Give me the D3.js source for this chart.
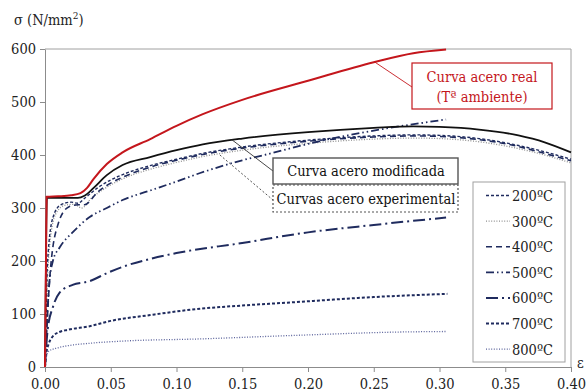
<!DOCTYPE html>
<html>
<head>
<meta charset="utf-8">
<script src="https://cdn.jsdelivr.net/npm/d3@7/dist/d3.min.js"></script>
<style>
html,body{margin:0;padding:0;background:#fff;}
svg{display:block;}
</style>
</head>
<body>
<svg id="chart" width="587" height="391"></svg>
<script>
// ---- data ----
const xTicks = [0, 0.05, 0.10, 0.15, 0.20, 0.25, 0.30, 0.35, 0.40];
const yTicks = [0, 100, 200, 300, 400, 500, 600];
const legendLabels = ["200ºC", "300ºC", "400ºC", "500ºC", "600ºC", "700ºC", "800ºC"];

const realCurve = [[0,0],[0.0012,321],[0.01,322],[0.02,324],[0.027,328],[0.032,338],[0.037,355],[0.047,383],[0.059,405],[0.08,430],[0.10,455],[0.12,477],[0.15,504],[0.20,540],[0.25,575],[0.28,592],[0.305,599]];
const modCurve = [[0,0],[0.0015,319],[0.01,319],[0.025,319],[0.03,323],[0.037,338],[0.047,362],[0.059,381],[0.08,396],[0.10,409],[0.12,420],[0.15,431],[0.20,443],[0.25,451],[0.28,454],[0.30,453],[0.33,448],[0.36,437],[0.38,424],[0.40,405]];
const c200 = [[0,0],[0.002,200],[0.006,282],[0.012,306],[0.02,311],[0.025,309],[0.03,318],[0.04,338],[0.05,353],[0.06,364],[0.08,380],[0.10,392],[0.12,403],[0.15,415],[0.20,428],[0.25,436],[0.28,438],[0.30,437],[0.33,431],[0.36,418],[0.38,406],[0.40,392]];
const c300 = [[0,0],[0.003,215],[0.008,288],[0.015,305],[0.022,307],[0.028,300],[0.035,318],[0.045,336],[0.06,356],[0.08,373],[0.10,386],[0.12,397],[0.15,409],[0.20,422],[0.25,430],[0.28,432],[0.30,431],[0.33,425],[0.36,412],[0.38,400],[0.40,385]];
const c400 = [[0,0],[0.004,180],[0.01,270],[0.018,302],[0.025,306],[0.03,306],[0.04,330],[0.05,347],[0.06,359],[0.08,377],[0.10,390],[0.12,401],[0.15,413],[0.20,426],[0.25,434],[0.28,436],[0.30,435],[0.33,429],[0.36,416],[0.38,403],[0.40,389]];
const c500 = [[0,0],[0.003,150],[0.006,200],[0.011,225],[0.021,254],[0.034,283],[0.047,300],[0.059,315],[0.08,333],[0.10,350],[0.118,366],[0.15,390],[0.17,402],[0.207,425],[0.257,449],[0.305,467]];
const c600 = [[0,0],[0.002,70],[0.006,113],[0.011,140],[0.021,155],[0.034,162],[0.047,177],[0.059,189],[0.08,204],[0.10,215],[0.15,234],[0.20,254],[0.25,268],[0.305,282]];
const c700 = [[0,0],[0.001,25],[0.003,45],[0.006,58],[0.011,66],[0.017,70],[0.034,77],[0.05,87],[0.08,98],[0.118,110],[0.15,116],[0.194,123],[0.25,132],[0.306,138]];
const c800 = [[0,0],[0.001,19],[0.003,30],[0.008,35],[0.017,40],[0.035,45],[0.06,49],[0.118,53],[0.194,60],[0.27,66],[0.305,67]];

// ---- layout ----
const svg = d3.select("#chart");
const x = d3.scaleLinear().domain([0, 0.40]).range([45, 571]);
const y = d3.scaleLinear().domain([0, 600]).range([367, 49]);
const navy = "#1f2b5e";
const FONT = "'DejaVu Serif Condensed','DejaVu Serif',serif";
const FS = "14.5px";

// frame
svg.append("line").attr("x1", x(0)).attr("x2", x(0.40)).attr("y1", y(600)).attr("y2", y(600)).attr("stroke", "#a0a0a0").attr("stroke-width", 1);
svg.append("line").attr("x1", x(0.40)).attr("x2", x(0.40)).attr("y1", y(600)).attr("y2", y(0)).attr("stroke", "#a0a0a0").attr("stroke-width", 1);

// axes
const xAxis = svg.append("g").attr("transform", `translate(0,${y(0)})`)
  .call(d3.axisBottom(x).tickValues(xTicks).tickFormat(d3.format(".2f")).tickSize(5).tickSizeOuter(0));
const yAxis = svg.append("g").attr("transform", `translate(${x(0)},0)`)
  .call(d3.axisLeft(y).tickValues(yTicks).tickFormat(d3.format("d")).tickSize(5).tickSizeOuter(0));
[xAxis, yAxis].forEach(a => {
  a.attr("font-family", null).attr("font-size", null);
  a.selectAll("path, line").attr("stroke", "#8c8c8c").attr("stroke-width", 1);
  a.selectAll("text").style("font-family", FONT).style("font-size", FS).attr("fill", "#222");
});
xAxis.selectAll("text").attr("dy", "0.95em").attr("y", 8);
yAxis.selectAll("text").attr("x", -9).attr("dy", "0.3em");

svg.append("text").attr("x", 14).attr("y", 25).style("font-family", FONT).style("font-size", FS).attr("fill", "#222")
  .html('σ (N/mm<tspan dy="-6" font-size="10">2</tspan><tspan dy="6">)</tspan>');
svg.append("text").attr("x", 577).attr("y", 368).style("font-family", FONT).style("font-size", FS).attr("fill", "#222").text("ε");

// curves
const line = d3.line().x(d => x(d[0])).y(d => y(d[1])).curve(d3.curveMonotoneX);
const series = [
  {data: c300, color: "#8f8f8f", w: 1.3, dash: "1,1.6"},
  {data: c400, color: navy, w: 1.6, dash: "6,4"},
  {data: c200, color: navy, w: 1.4, dash: "3,2"},
  {data: c500, color: navy, w: 1.8, dash: "8,3,1.5,3,1.5,3"},
  {data: c600, color: navy, w: 2, dash: "12,4,2,4"},
  {data: c700, color: navy, w: 2, dash: "3,2"},
  {data: c800, color: "#59619a", w: 1.3, dash: "1,1.6"}
];
series.forEach(s => {
  svg.append("path").attr("d", line(s.data)).attr("fill", "none")
    .attr("stroke", s.color).attr("stroke-width", s.w).attr("stroke-dasharray", s.dash);
});
svg.append("path").attr("d", line(modCurve)).attr("fill", "none").attr("stroke", "#111").attr("stroke-width", 1.8);
svg.append("path").attr("d", line(realCurve)).attr("fill", "none").attr("stroke", "#c4161c").attr("stroke-width", 2);

// annotations
const red = "#c4161c";
function label(xp, yp, txt, color) {
  svg.append("text").attr("x", xp).attr("y", yp).attr("text-anchor", "middle")
    .style("font-family", FONT).style("font-size", FS).attr("fill", color).text(txt);
}
svg.append("line").attr("x1", x(0.251)).attr("y1", y(575)).attr("x2", 412).attr("y2", 87).attr("stroke", red).attr("stroke-width", 0.9);
svg.append("rect").attr("x", 412).attr("y", 63).attr("width", 140).attr("height", 46).attr("fill", "#fff").attr("stroke", red).attr("stroke-width", 1.2);
label(482, 82, "Curva acero real", red);
label(482, 102, "(Tª ambiente)", red);

svg.append("line").attr("x1", x(0.142)).attr("y1", y(429)).attr("x2", 273).attr("y2", 171).attr("stroke", "#333").attr("stroke-width", 0.9);
svg.append("line").attr("x1", x(0.133)).attr("y1", y(400)).attr("x2", 273).attr("y2", 200).attr("stroke", "#555").attr("stroke-width", 1).attr("stroke-dasharray", "2,2");
svg.append("rect").attr("x", 273).attr("y", 158).attr("width", 185).attr("height", 26).attr("fill", "#fff").attr("stroke", "#555").attr("stroke-width", 1.4);
label(366, 176, "Curva acero modificada", "#111");
svg.append("rect").attr("x", 273).attr("y", 185).attr("width", 185).attr("height", 27).attr("fill", "#fff").attr("stroke", "#555").attr("stroke-width", 1.2).attr("stroke-dasharray", "2,2");
label(366, 204, "Curvas acero experimental", "#111");

// legend
const legendStyles = [series[2], series[0], series[1], series[3], series[4], series[5], series[6]];
svg.append("rect").attr("x", 473).attr("y", 182).attr("width", 92).attr("height", 180).attr("fill", "#fff").attr("stroke", "#a0a0a0").attr("stroke-width", 1);
legendLabels.forEach((lab, i) => {
  const ly = 195.5 + i * 25.6;
  const st = legendStyles[i];
  svg.append("line").attr("x1", 486).attr("x2", 510).attr("y1", ly).attr("y2", ly)
    .attr("stroke", st.color).attr("stroke-width", st.w).attr("stroke-dasharray", st.dash);
  svg.append("text").attr("x", 512).attr("y", ly + 5.5).style("font-family", FONT).style("font-size", FS).attr("fill", "#222").text(lab);
});
</script>
</body>
</html>
